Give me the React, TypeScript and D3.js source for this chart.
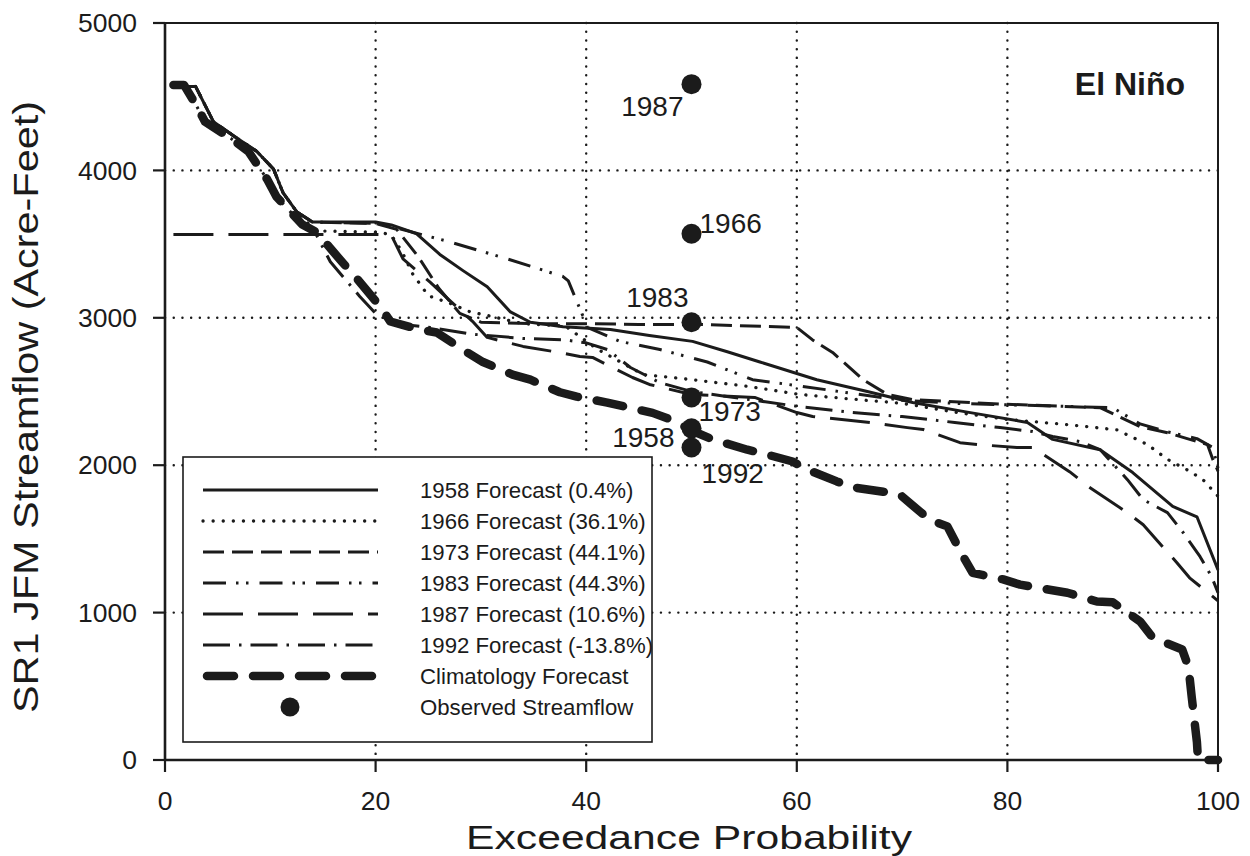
import React from 'react';
import * as d3 from 'd3';

type Pt = [number, number];

// exceedance probability (%) vs JFM streamflow (acre-feet)
const f1958: Pt[] = [
  [1.9, 4570], [2.9, 4570], [4.6, 4330], [6.6, 4230], [8.7, 4130], [10.3, 4010], [11.2, 3850],
  [12.5, 3720], [14, 3650], [20, 3650], [21.5, 3630], [23.9, 3570], [26.1, 3430], [28.3, 3320],
  [30.6, 3210], [32.8, 3040], [34.7, 2970], [37.8, 2940], [42.3, 2920], [46, 2880], [50.1, 2840],
  [53.4, 2770], [56.5, 2700], [61.9, 2580], [66.7, 2500], [71, 2425], [76.2, 2360], [81.9, 2290],
  [84.3, 2175], [88.8, 2105], [91.9, 1950], [95.7, 1720], [98, 1650], [100, 1290],
];
const f1966: Pt[] = [
  [1.9, 4570], [2.9, 4570], [4.6, 4330], [6.6, 4230], [8.7, 4130], [10.3, 4010], [11.2, 3850],
  [12.5, 3720], [14.3, 3590], [20.5, 3580], [21.5, 3560], [22.5, 3450], [23.5, 3300], [25, 3150],
  [27, 3100], [29, 3040], [31, 3010], [34, 2960], [38, 2945], [41, 2790], [45.4, 2615], [50.1, 2580],
  [55.3, 2535], [60.3, 2480], [65, 2450], [70, 2420], [75, 2360], [80, 2310], [85, 2280],
  [90.4, 2240], [93.3, 2140], [95.2, 2040], [97.3, 1960], [98.6, 1900], [100, 1790],
];
const f1973: Pt[] = [
  [1.9, 4570], [2.9, 4570], [4.6, 4330], [6.6, 4230], [8.7, 4130], [10.3, 4010], [11.2, 3850],
  [12.5, 3720], [14, 3650], [20, 3640], [22, 3600], [24, 3420], [26, 3200], [28, 3030], [30, 2970],
  [35, 2960], [40, 2960], [45, 2955], [50.8, 2955], [60, 2935], [61.5, 2850], [63.4, 2765],
  [66.3, 2580], [68.6, 2480], [71, 2445], [79.3, 2415], [85, 2400], [88.8, 2390], [92.6, 2262],
  [95.2, 2220], [99, 2140], [99.5, 2040], [100, 1960],
];
const f1983: Pt[] = [
  [1.9, 4570], [2.9, 4570], [4.6, 4330], [6.6, 4230], [8.7, 4130], [10.3, 4010], [11.2, 3850],
  [12.5, 3720], [14, 3650], [20, 3640], [21.4, 3620], [26.8, 3520], [32.5, 3400], [37.8, 3280],
  [38.3, 3250], [39.7, 3010], [40.1, 2935], [43.2, 2840], [47, 2785], [51.5, 2700], [55.8, 2580],
  [60, 2540], [65, 2490], [70, 2440], [75, 2420], [80, 2410], [85, 2400], [90, 2390], [92.6, 2280],
  [95, 2230], [98, 2180], [99.5, 2120], [100, 1980],
];
const f1987: Pt[] = [
  [0.8, 3565], [20.5, 3565], [21.5, 3560], [22.6, 3400], [25.2, 3240], [27, 3120], [29.2, 2976],
  [30.6, 2867], [34, 2806], [37, 2770], [39.4, 2738], [40.6, 2731], [44.4, 2595], [46, 2548],
  [50, 2480], [53, 2470], [56, 2460], [60, 2357], [61.5, 2330], [67, 2290], [70.5, 2255], [72, 2242],
  [75.5, 2153], [77.2, 2140], [80.9, 2120], [82.4, 2120], [85.9, 1956], [87.7, 1855], [91.4, 1678],
  [92.9, 1596], [96.1, 1338], [97.3, 1236], [100, 1080],
];
const f1992: Pt[] = [
  [0.8, 4580], [1.8, 4580], [2.9, 4450], [3.8, 4330], [6.4, 4210], [7.9, 4130], [9.7, 3940],
  [10.6, 3820], [13, 3635], [14.4, 3560], [15.7, 3380], [18.5, 3145], [20, 3030], [22, 2960],
  [25.2, 2935], [29, 2890], [34, 2860], [38, 2850], [40, 2830], [42, 2785], [44.2, 2663], [47, 2560],
  [50, 2500], [53, 2470], [57, 2430], [60, 2400], [65, 2360], [70, 2330], [75, 2290], [79.3, 2255],
  [82.4, 2228], [84.3, 2195], [86.9, 2160], [88.8, 2106], [91.4, 1902], [92.9, 1766], [95.2, 1678],
  [96.7, 1542], [98.3, 1379], [99.4, 1243], [100, 1135],
];
const climatology: Pt[] = [
  [0.8, 4580], [1.8, 4580], [2.9, 4450], [3.8, 4330], [6.4, 4210], [7.9, 4130], [9.7, 3940],
  [10.6, 3820], [13, 3635], [14.4, 3580], [16.8, 3380], [18.3, 3260], [20.4, 3080], [21.4, 2975],
  [24.2, 2920], [25.8, 2900], [28.7, 2765], [30.2, 2700], [33, 2615], [34.7, 2580], [37.5, 2495],
  [39.1, 2465], [42, 2425], [43.5, 2400], [46.3, 2355], [48, 2310], [50.5, 2220], [52, 2175],
  [55.3, 2105], [56.5, 2085], [59.6, 2025], [61, 1970], [63.8, 1890], [65.3, 1850], [68.2, 1820],
  [69.8, 1800], [72.6, 1630], [74.3, 1585], [75.8, 1380], [76.7, 1270], [79.6, 1225], [81.2, 1190],
  [84, 1155], [85.7, 1135], [88.5, 1075], [90, 1070], [92.6, 940], [93.8, 830], [96.6, 750],
  [97.2, 630], [97.5, 430], [98, 120], [98.1, 0], [100, 0],
];

const observedYears = ['1987', '1966', '1983', '1973', '1958', '1992'];
const observedFlow = [4585, 3570, 2970, 2460, 2250, 2120];
const observedProb = 50;

const xTicks = [0, 20, 40, 60, 80, 100];
const yTicks = [0, 1000, 2000, 3000, 4000, 5000];

const INK = '#1b1b1b';
const FONT = '"Liberation Sans", Arial, sans-serif';

const series = [
  { label: '1958 Forecast (0.4%)', data: f1958, dash: 'none', w: 3, cap: 'butt' },
  { label: '1966 Forecast (36.1%)', data: f1966, dash: '0.1 10', w: 3.3, cap: 'round' },
  { label: '1973 Forecast (44.1%)', data: f1973, dash: '21 8', w: 3, cap: 'butt' },
  { label: '1983 Forecast (44.3%)', data: f1983, dash: '23 10 2.5 7.5 2.5 11', w: 3, cap: 'butt' },
  { label: '1987 Forecast (10.6%)', data: f1987, dash: '40 15', w: 3, cap: 'butt' },
  { label: '1992 Forecast (-13.8%)', data: f1992, dash: '27 9 2.5 9', w: 3, cap: 'butt' },
  { label: 'Climatology Forecast', data: climatology, dash: '27 19', w: 8.5, cap: 'round' },
];

// label offsets from each observed dot: [dx, dy, anchor]
const obsLabelPos: Record<string, [number, number, string]> = {
  '1987': [-8, 32, 'end'],
  '1966': [8, -1, 'start'],
  '1983': [-3, -15, 'end'],
  '1973': [7, 24, 'start'],
  '1958': [-17, 19, 'end'],
  '1992': [10, 35, 'start'],
};

export default function App() {
  const x = d3.scaleLinear().domain([0, 100]).range([165, 1218]);
  const y = d3.scaleLinear().domain([0, 5000]).range([760, 23]);
  const line = d3.line<Pt>().x((d) => x(d[0])).y((d) => y(d[1]));

  const legX = 183, legY = 457, legW = 469, legH = 285;
  const rowY = (i: number) => 490 + i * 31;

  return (
    <div style={{ position: 'absolute', left: 0, top: 0 }}>
      <svg width={1250} height={856} style={{ display: 'block', background: '#fff' }} fontFamily={FONT}>
        {/* grid */}
        <g stroke={INK} strokeWidth={2.4} strokeDasharray="0.1 8.6" strokeLinecap="round">
          {xTicks.slice(1, -1).map((t) => (
            <line key={'gx' + t} x1={x(t)} x2={x(t)} y1={y(5000)} y2={y(0)} />
          ))}
          {yTicks.slice(1, -1).map((t) => (
            <line key={'gy' + t} x1={x(0)} x2={x(100)} y1={y(t)} y2={y(t)} />
          ))}
        </g>

        {/* series */}
        {series.map((s) => (
          <path key={s.label} d={line(s.data) ?? ''} fill="none" stroke={INK}
            strokeWidth={s.w} strokeDasharray={s.dash} strokeLinecap={s.cap as any}
            strokeLinejoin="round" />
        ))}

        {/* observed */}
        {observedYears.map((yr, i) => {
          const [dx, dy, anchor] = obsLabelPos[yr];
          const cx = x(observedProb), cy = y(observedFlow[i]);
          return (
            <g key={yr}>
              <circle cx={cx} cy={cy} r={10} fill={INK} />
              <text x={cx + dx} y={cy + dy} textAnchor={anchor as any} fontSize={28} fill={INK}>{yr}</text>
            </g>
          );
        })}

        {/* frame & axes */}
        <rect x={x(0)} y={y(5000)} width={x(100) - x(0)} height={y(0) - y(5000)} fill="none" stroke={INK} strokeWidth={2} />
        <line x1={x(0)} x2={x(0)} y1={y(5000)} y2={y(0)} stroke={INK} strokeWidth={2.6} />
        <line x1={x(0)} x2={x(100)} y1={y(0)} y2={y(0)} stroke={INK} strokeWidth={2.6} />
        {yTicks.map((t) => (
          <g key={'yt' + t}>
            <line x1={x(0) - 12} x2={x(0)} y1={y(t)} y2={y(t)} stroke={INK} strokeWidth={2.2} />
            <text x={137} y={y(t)} dy="0.35em" textAnchor="end" fontSize={26.5} fill={INK}>{t}</text>
          </g>
        ))}
        {xTicks.map((t) => (
          <g key={'xt' + t}>
            <line x1={x(t)} x2={x(t)} y1={y(0)} y2={y(0) + 12} stroke={INK} strokeWidth={2.2} />
            <text x={x(t)} y={810} textAnchor="middle" fontSize={26.5} fill={INK}>{t}</text>
          </g>
        ))}
        <text x={689} y={849} textAnchor="middle" fontSize={34} textLength={446}
          lengthAdjust="spacingAndGlyphs" fill={INK}>Exceedance Probability</text>
        <text transform="translate(38,407) rotate(-90)" textAnchor="middle" fontSize={35}
          textLength={612} lengthAdjust="spacingAndGlyphs" fill={INK}>
          SR1 JFM Streamflow (Acre-Feet)
        </text>
        <text x={1185} y={95} textAnchor="end" fontSize={32} fontWeight="bold" fill={INK}>El Niño</text>

        {/* legend */}
        <rect x={legX} y={legY} width={legW} height={legH} fill="#fff" stroke={INK} strokeWidth={1.6} />
        {series.map((s, i) => (
          <g key={'leg' + s.label}>
            <line x1={s.cap === 'round' && s.w > 4 ? 207 : 203} x2={s.cap === 'round' && s.w > 4 ? 374 : 378}
              y1={rowY(i)} y2={rowY(i)} stroke={INK} strokeWidth={s.w}
              strokeDasharray={s.dash} strokeLinecap={s.cap as any} />
            <text x={420} y={rowY(i) + 8} fontSize={22.2} fill={INK}>{s.label}</text>
          </g>
        ))}
        <circle cx={290} cy={rowY(7)} r={9.5} fill={INK} />
        <text x={420} y={rowY(7) + 8} fontSize={22.2} fill={INK}>Observed Streamflow</text>
      </svg>
    </div>
  );
}
